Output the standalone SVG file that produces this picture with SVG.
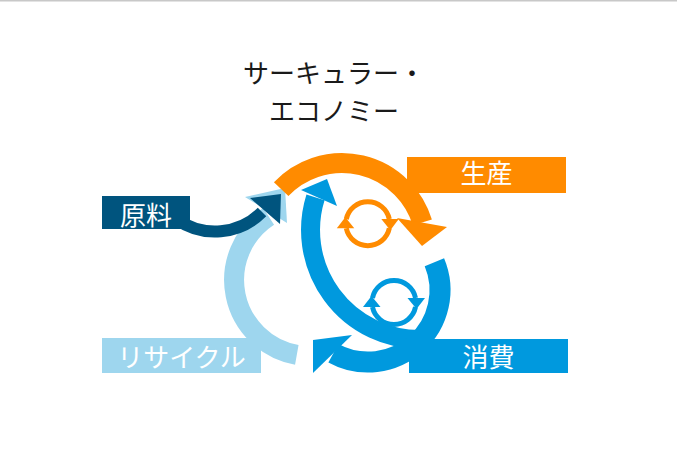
<svg xmlns="http://www.w3.org/2000/svg" xmlns:xlink="http://www.w3.org/1999/xlink" width="677" height="450" viewBox="0 0 677 450">
  <style>
    .title { font-family: "Noto Sans CJK JP", "Noto Sans", sans-serif; font-size: 26px; fill: #1a1a1a; text-anchor: middle; }
    .lbl { font-family: "Noto Sans CJK JP", "Noto Sans", sans-serif; font-size: 26px; fill: #ffffff; text-anchor: middle; }
    .arc { fill: none; stroke-linecap: butt; }
    .orange { fill: #FF8B00; }
    .blue { fill: #0099DE; }
    .lightblue { fill: #9ED6EE; }
    .dark { fill: #00547E; }
  </style>
  <defs>
    <g id="cycle">
      <path d="M 21.52 4.57 A 22 22 0 0 1 -21.52 4.57" fill="none" stroke="currentColor" stroke-width="5"/>
      <polygon points="-31,4.6 -13.5,4.6 -22.5,-6.5" fill="currentColor"/>
      <path d="M -21.52 -4.57 A 22 22 0 0 1 21.52 -4.57" fill="none" stroke="currentColor" stroke-width="5"/>
      <polygon points="31,-4.6 13.5,-4.6 22.5,6.5" fill="currentColor"/>
    </g>
  </defs>

  <rect x="0" y="0" width="677" height="1.5" fill="#c8c8c8"/>

  <g id="title">
    <text class="title" x="334" y="83">サーキュラー・</text>
    <text class="title" x="334" y="120.7">エコノミー</text>
  </g>

  <g id="connectors">
    <!-- recycle (light blue) -->
    <path class="arc" d="M 296.8 354.8 A 76 76 0 0 1 268.6 216.3" stroke="#9ED6EE" stroke-width="20"/>
    <polygon class="lightblue" points="245,197 285,188 287,223"/>
    <!-- raw material (dark blue) -->
    <path class="arc" d="M 176.86 219.47 A 66.5 66.5 0 0 0 262.02 212.02" stroke="#00547E" stroke-width="12"/>
    <polygon class="dark" points="250,198 281,194 280,224"/>
    <!-- production (orange) -->
    <path class="arc" d="M 281.17 189.07 A 84 84 0 0 1 422.33 222.44" stroke="#FF8B00" stroke-width="20"/>
    <polygon class="orange" points="397,218 422,246 447,227"/>
    <!-- consumption loop (blue) -->
    <path class="arc" d="M 420 339.5 A 109.5 109.5 0 0 1 315.5 197.4" stroke="#0099DE" stroke-width="19"/>
    <polygon class="blue" points="301,190 327,179 337,206"/>
    <path class="arc" d="M 434.4 262.2 A 72 72 0 0 1 333.4 353.2" stroke="#0099DE" stroke-width="21"/>
    <polygon class="blue" points="352,335 313,340 313,373"/>
  </g>

  <g id="node-genryo">
    <rect class="dark" x="102" y="196" width="88" height="33"/>
    <text class="lbl" x="146" y="225">原料</text>
  </g>
  <g id="node-seisan">
    <rect class="orange" x="407" y="157" width="159" height="36"/>
    <text class="lbl" x="486.5" y="183">生産</text>
  </g>
  <g id="node-shohi">
    <rect class="blue" x="409" y="339" width="159" height="34"/>
    <text class="lbl" x="488.5" y="367">消費</text>
  </g>
  <g id="node-recycle">
    <rect class="lightblue" x="102" y="338" width="159" height="35"/>
    <text class="lbl" x="181.5" y="367">リサイクル</text>
  </g>
  <g id="cycle-orange">
    <use xlink:href="#cycle" href="#cycle" transform="translate(367.8,223.7)" style="color:#FF8B00"/>
  </g>
  <g id="cycle-blue">
    <use xlink:href="#cycle" href="#cycle" transform="translate(394,302.5)" style="color:#0099DE"/>
  </g>
</svg>
